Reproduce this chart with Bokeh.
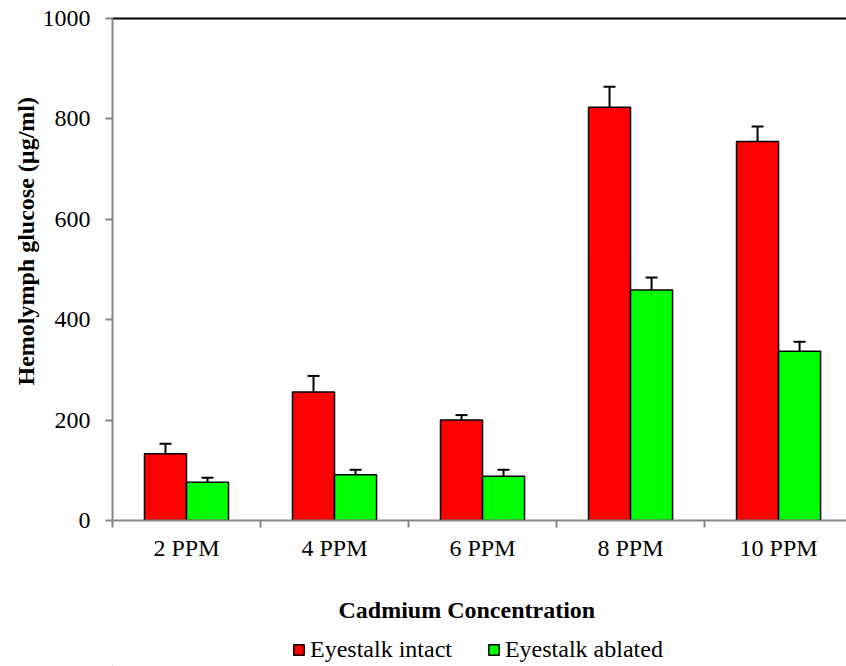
from bokeh.plotting import figure
from bokeh.models import (Range1d, FixedTicker, LinearAxis, Legend, LegendItem,
                          Whisker, ColumnDataSource, TeeHead, Title)
from bokeh.layouts import column
from bokeh.embed import file_html
from bokeh.resources import INLINE

# ---- data ----
categories = ["2 PPM", "4 PPM", "6 PPM", "8 PPM", "10 PPM"]
intact = [133, 256, 200, 823, 755]
intact_err = [20, 32, 10, 41, 30]
ablated = [76, 91, 88, 459, 337]
ablated_err = [9, 10, 13, 25, 19]
series_names = ["Eyestalk intact", "Eyestalk ablated"]
series_colors = ["#FF0000", "#00FF00"]
y_ticks = [0, 200, 400, 600, 800, 1000]
x_title = "Cadmium Concentration"
y_title = "Hemolymph glucose (µg/ml)"

FONT = "Liberation Serif"
GREY = "#868686"

n = len(categories)
idx = list(range(n))
bar_w = 0.284
off = bar_w / 2

p = figure(width=846, height=572, output_backend="svg", toolbar_location=None,
           x_range=Range1d(-0.5, 4.459), y_range=Range1d(0, 1000),
           min_border_left=112, min_border_right=0, min_border_top=18,
           min_border_bottom=52)
p.xgrid.visible = False
p.ygrid.visible = False
p.outline_line_color = None
p.background_fill_color = "white"
p.border_fill_color = "white"

src_i = ColumnDataSource(dict(x=[i - off for i in idx], top=intact,
                              upper=[v + e for v, e in zip(intact, intact_err)]))
src_a = ColumnDataSource(dict(x=[i + off for i in idx], top=ablated,
                              upper=[v + e for v, e in zip(ablated, ablated_err)]))

p.vbar(x='x', top='top', width=bar_w, source=src_i, fill_color=series_colors[0],
       line_color="black", line_width=1.5)
p.vbar(x='x', top='top', width=bar_w, source=src_a, fill_color=series_colors[1],
       line_color="black", line_width=1.5)

for src in (src_i, src_a):
    w = Whisker(source=src, base='x', lower='top', upper='upper',
                upper_head=TeeHead(size=12, line_width=2, line_color="black"),
                lower_head=None, line_width=2, line_color="black", level="overlay")
    p.add_layout(w)

# x axis
xa = p.xaxis[0]
xa.ticker = FixedTicker(ticks=idx, minor_ticks=[i - 0.5 for i in range(n + 1)])
xa.major_label_overrides = {i: c for i, c in zip(idx, categories)}
xa.major_tick_out = 0
xa.major_tick_in = 0
xa.minor_tick_out = 7
xa.minor_tick_in = 0
xa.minor_tick_line_color = GREY
xa.minor_tick_line_width = 2
xa.axis_line_color = GREY
xa.axis_line_width = 2
xa.major_label_text_font = FONT
xa.major_label_text_font_size = "24px"
xa.major_label_text_color = "black"
xa.major_label_standoff = 7

# y axis
ya = p.yaxis[0]
ya.ticker = FixedTicker(ticks=y_ticks, minor_ticks=[])
ya.major_tick_out = 7
ya.major_tick_in = 0
ya.major_tick_line_color = GREY
ya.major_tick_line_width = 2
ya.axis_line_color = GREY
ya.axis_line_width = 2
ya.major_label_text_font = FONT
ya.major_label_text_font_size = "24px"
ya.major_label_text_color = "black"
ya.major_label_standoff = 15

# y axis title (side title, offset like the reference)
yt = Title(text=y_title, align="left", offset=135, standoff=2,
           text_font=FONT, text_font_style="bold", text_font_size="24px",
           text_color="black")
p.add_layout(yt, "left")

# top border line
top_ax = LinearAxis(ticker=FixedTicker(ticks=[]), axis_line_color="black",
                    axis_line_width=2, major_label_text_font_size="0px",
                    major_tick_out=0, major_tick_in=0, minor_tick_out=0, minor_tick_in=0)
p.add_layout(top_ax, "above")

# ---- x title + legend strip ----
xt = Title(text=x_title, align="left", offset=226, standoff=16,
           text_font=FONT, text_font_style="bold", text_font_size="24px",
           text_color="black")
lf = figure(width=846, height=94, output_backend="svg", toolbar_location=None,
            title=xt, x_range=Range1d(0, 1), y_range=Range1d(0, 1),
            min_border_left=0, min_border_right=0, min_border_top=58,
            min_border_bottom=0)
lf.axis.visible = False
lf.xgrid.visible = False
lf.ygrid.visible = False
lf.outline_line_color = None
lf.background_fill_color = "white"
lf.border_fill_color = "white"
hidden = ColumnDataSource(dict(x=[-100], top=[-100]))
lr = [lf.vbar(x='x', top='top', bottom=-101, width=0.1, source=hidden, fill_color=c,
              line_color="black", line_width=1.5) for c in series_colors]
legend = Legend(items=[LegendItem(label=s, renderers=[r]) for s, r in zip(series_names, lr)],
                orientation="horizontal", location=(180, 3),
                label_text_font=FONT, label_text_font_size="24px",
                label_text_color="black",
                glyph_width=13, glyph_height=13, label_standoff=5, spacing=35,
                padding=0, margin=0, border_line_color=None,
                background_fill_alpha=0)
lf.add_layout(legend)

layout = column(p, lf, spacing=0)
open("out.html", "w").write(file_html(layout, INLINE))
